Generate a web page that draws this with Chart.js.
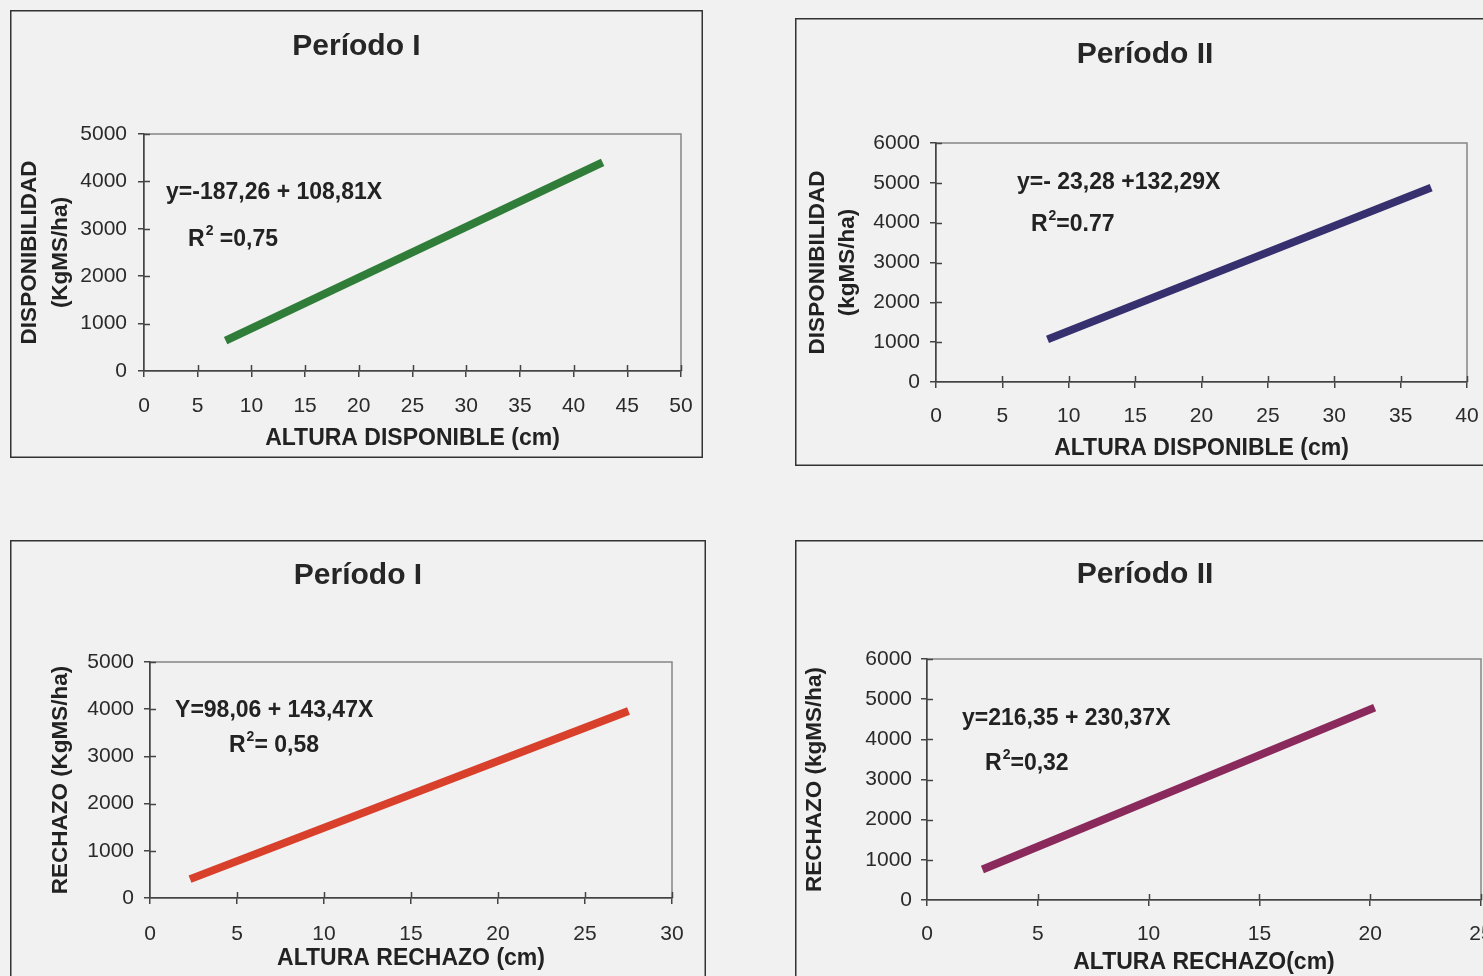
<!DOCTYPE html>
<html>
<head>
<meta charset="utf-8">
<script src="https://cdn.jsdelivr.net/npm/chart.js@4.4.1/dist/chart.umd.min.js"></script>
<style>
html,body{margin:0;padding:0;background:#f1f1f1;width:1483px;height:976px;overflow:hidden;position:relative}
canvas{position:absolute;display:block}
</style>
</head>
<body>
<canvas id="c1" width="693" height="448" style="left:10px;top:10px"></canvas>
<canvas id="c2" width="700" height="448" style="left:795px;top:18px"></canvas>
<canvas id="c3" width="696" height="460" style="left:10px;top:540px"></canvas>
<canvas id="c4" width="700" height="460" style="left:795px;top:540px"></canvas>
<script>
// ---------- DATA ----------
const chartTitles = ['Período I', 'Período II', 'Período I', 'Período II'];
const xAxisTitles = ['ALTURA DISPONIBLE (cm)', 'ALTURA DISPONIBLE (cm)', 'ALTURA RECHAZO (cm)', 'ALTURA RECHAZO(cm)'];
const yAxisTitles = [['DISPONIBILIDAD', '(KgMS/ha)'], ['DISPONIBILIDAD', '(kgMS/ha)'], 'RECHAZO (KgMS/ha)', 'RECHAZO (kgMS/ha)'];
const equations = ['y=-187,26 + 108,81X', 'y=- 23,28 +132,29X', 'Y=98,06 + 143,47X', 'y=216,35 + 230,37X'];
const r2Texts = [' =0,75', '=0.77', '= 0,58', '=0,32'];

// fitted lines (start / end)
const dispP1X = [7.6, 42.7];
const dispP1Y = [640, 4400];
const dispP2X = [8.4, 37.3];
const dispP2Y = [1070, 4880];
const rechP1X = [2.3, 27.5];
const rechP1Y = [400, 3960];
const rechP2X = [2.5, 20.2];
const rechP2Y = [760, 4790];

// axis ranges / tick steps
const xMaxs = [50, 40, 30, 25];
const xSteps = [5, 5, 5, 5];
const yMaxs = [5000, 6000, 5000, 6000];
const ySteps = [1000, 1000, 1000, 1000];

// ---------- STYLE / LAYOUT ----------
const FONT = '"Liberation Sans", Arial, Helvetica, sans-serif';
Chart.defaults.font.family = FONT;
Chart.defaults.color = '#2a2a2a';

const lineColors = ['#2f7d38', '#37306f', '#d8402c', '#8a2a5c'];
const TITLE_SIZE = 30, TITLE_LH = 36;
const TICK = 6;
const TICK_SIZE = 21;
const layouts = [
  {id:'c1', left:134, right:22, top:124, bottom:87,  titleTop:19, yTitlePad:3.5,  yTitleLH:1.41, xTitlePad:5.2,  xLabelOff:35, yTickPad:11, eqAt:[2.05,3755], r2At:[4.1,2764]},
  {id:'c2', left:141, right:28, top:125, bottom:84,  titleTop:19, yTitlePad:7,    yTitleLH:1.36, xTitlePad:3.2,  xLabelOff:34, yTickPad:10, eqAt:[6.1,5000],  r2At:[7.15,3941]},
  {id:'c3', left:140, right:34, top:122, bottom:102, titleTop:18, yTitlePad:36.8, yTitleLH:1.2,  xTitlePad:27.2, xLabelOff:36, yTickPad:10, eqAt:[1.44,3962], r2At:[4.54,3220]},
  {id:'c4', left:132, right:14, top:119, bottom:100, titleTop:17, yTitlePad:5.8,  yTitleLH:1.2,  xTitlePad:23.2, xLabelOff:34, yTickPad:9,  eqAt:[1.58,4506], r2At:[2.62,3386]}
];
const lineXs = [dispP1X, dispP2X, rechP1X, rechP2X];
const lineYs = [dispP1Y, dispP2Y, rechP1Y, rechP2Y];

const AXIS = '#444444';
const PLOT_BORDER = '#858585';

const framePlugin = {
  id: 'frame',
  beforeDraw(chart) {
    const {ctx, chartArea: a, width, height} = chart;
    ctx.save();
    ctx.strokeStyle = '#333333';
    ctx.lineWidth = 1.5;
    ctx.strokeRect(0.75, 0.75, width - 1.5, height - 1.5);
    ctx.strokeStyle = PLOT_BORDER;
    ctx.lineWidth = 1.5;
    ctx.strokeRect(a.left, a.top, a.right - a.left, a.bottom - a.top);
    ctx.restore();
  },
  beforeDatasetsDraw(chart) {
    const {ctx, chartArea: a, scales: {x, y}} = chart;
    ctx.save();
    ctx.strokeStyle = AXIS;
    ctx.lineWidth = 1.5;
    ctx.beginPath();
    x.ticks.forEach(t => {
      if (t.value === x.min) return;
      const px = Math.round(x.getPixelForValue(t.value)) + 0.5;
      ctx.moveTo(px, a.bottom); ctx.lineTo(px, a.bottom - TICK);
    });
    y.ticks.forEach(t => {
      if (t.value === y.min) return;
      const py = Math.round(y.getPixelForValue(t.value)) + 0.5;
      ctx.moveTo(a.left, py); ctx.lineTo(a.left + TICK, py);
    });
    ctx.stroke();
    ctx.restore();
  }
};

const annotPlugin = {
  id: 'annot',
  afterDatasetsDraw(chart, args, o) {
    const {ctx, scales: {x, y}} = chart;
    const big = 'bold 23px ' + FONT;
    const small = 'bold 14px ' + FONT;
    ctx.save();
    ctx.fillStyle = '#222222';
    ctx.textAlign = 'left';
    ctx.textBaseline = 'middle';
    ctx.font = big;
    ctx.fillText(o.eq, x.getPixelForValue(o.eqAt[0]), y.getPixelForValue(o.eqAt[1]));
    let px = x.getPixelForValue(o.r2At[0]);
    const py = y.getPixelForValue(o.r2At[1]);
    ctx.fillText('R', px, py);
    px += ctx.measureText('R').width + 1;
    ctx.font = small;
    ctx.fillText('2', px, py - 9);
    px += ctx.measureText('2').width;
    ctx.font = big;
    ctx.fillText(o.r2, px, py);
    ctx.restore();
  }
};

function build(i) {
  const L = layouts[i];
  const pts = lineXs[i].map((xv, k) => ({x: xv, y: lineYs[i][k]}));
  new Chart(document.getElementById(L.id), {
    type: 'line',
    data: {
      datasets: [{
        data: pts,
        borderColor: lineColors[i],
        borderWidth: 8,
        borderCapStyle: 'butt',
        pointRadius: 0,
        fill: false,
        tension: 0
      }]
    },
    options: {
      responsive: false,
      animation: false,
      events: [],
      layout: {padding: {left: 0, right: 0, top: 0, bottom: 0}},
      plugins: {
        legend: {display: false},
        tooltip: {enabled: false},
        title: {
          display: true,
          text: chartTitles[i],
          color: '#262626',
          font: {size: TITLE_SIZE, weight: 'bold', lineHeight: TITLE_LH / TITLE_SIZE},
          padding: {top: L.titleTop, bottom: L.top - L.titleTop - TITLE_LH}
        },
        annot: {eq: equations[i], r2: r2Texts[i], eqAt: L.eqAt, r2At: L.r2At}
      },
      scales: {
        x: {
          type: 'linear',
          position: 'bottom',
          min: 0, max: xMaxs[i],
          ticks: {stepSize: xSteps[i], padding: 0, color: '#2a2a2a',
                  font: {size: TICK_SIZE, lineHeight: (L.xLabelOff - TICK) * 2 / TICK_SIZE},
                  callback: v => String(v), maxRotation: 0, autoSkip: false},
          grid: {drawOnChartArea: false, drawTicks: true, tickLength: TICK, color: AXIS, lineWidth: 1.5},
          border: {display: true, color: AXIS, width: 1.5},
          title: {display: true, text: xAxisTitles[i], color: '#222222', font: {size: 23, weight: 'bold', lineHeight: 1.2}, padding: {top: 0, bottom: L.xTitlePad}},
          afterFit: s => { s.height = L.bottom; }
        },
        y: {
          type: 'linear',
          position: 'left',
          min: 0, max: yMaxs[i],
          ticks: {stepSize: ySteps[i], padding: L.yTickPad, color: '#2a2a2a', font: {size: TICK_SIZE}, callback: v => String(v)},
          grid: {drawOnChartArea: false, drawTicks: true, tickLength: TICK, color: AXIS, lineWidth: 1.5},
          border: {display: true, color: AXIS, width: 1.5},
          title: {display: true, text: yAxisTitles[i], color: '#222222', font: {size: 22.5, weight: 'bold', lineHeight: L.yTitleLH}, padding: {top: L.yTitlePad, bottom: 0}},
          afterFit: s => { s.width = L.left; }
        },
        yR: {
          type: 'linear',
          position: 'right',
          min: 0, max: 1,
          display: true,
          ticks: {display: false},
          grid: {display: false, drawTicks: false},
          border: {display: false},
          afterFit: s => { s.width = L.right; }
        }
      }
    },
    plugins: [framePlugin, annotPlugin]
  });
}
[0, 1, 2, 3].forEach(build);
</script>
</body>
</html>
